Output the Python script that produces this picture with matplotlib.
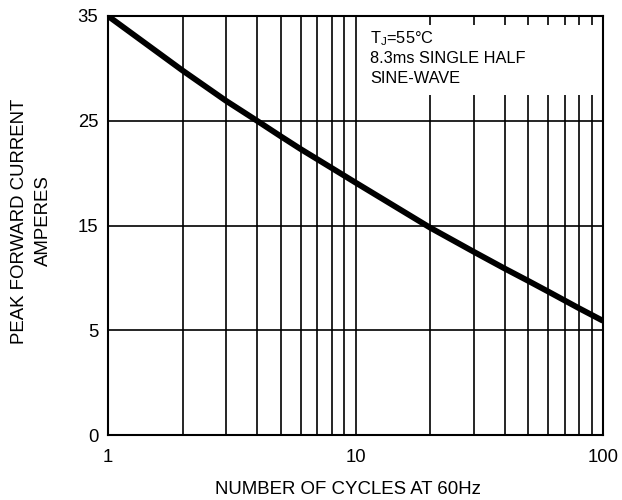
import numpy as np
import matplotlib
matplotlib.use("Agg")
import matplotlib.pyplot as plt
from matplotlib.ticker import LogLocator, FixedLocator, FixedFormatter, NullFormatter
from matplotlib.patches import Rectangle

plt.rcParams['font.family'] = ['Liberation Sans', 'DejaVu Sans']
plt.rcParams['mathtext.fontset'] = 'custom'
plt.rcParams['mathtext.rm'] = 'Liberation Sans'
plt.rcParams['mathtext.it'] = 'Liberation Sans'

# Data
cycles = [1, 2, 3, 4, 5, 6, 8, 10, 20, 30, 40, 50, 60, 80, 100]
current = [35, 29.8, 26.9, 25.0, 23.5, 22.3, 20.5, 19.1, 14.8, 12.5, 10.9, 9.7, 8.7, 7.1, 5.9]

y_ticks = [0, 5, 15, 25, 35]
y_tick_labels = ["0", "5", "15", "25", "35"]
x_ticks = [1, 10, 100]
x_tick_labels = ["1", "10", "100"]

# The printed y axis is evenly spaced at 0, 5, 15, 25, 35
tick_pos = np.arange(len(y_ticks), dtype=float)
tick_val = np.array(y_ticks, dtype=float)

def fwd(v):
    return np.interp(v, tick_val, tick_pos)

def inv(p):
    return np.interp(p, tick_pos, tick_val)

fig = plt.figure(figsize=(6.22, 5.0), dpi=100)
ax = fig.add_axes([108/622, 65/500, 495/622, 419/500])

ax.set_xscale('log')
ax.set_yscale('function', functions=(fwd, inv))
ax.set_xlim(1, 100)
ax.set_ylim(0, 35)

ax.plot(cycles, current, color='black', lw=4.2, solid_capstyle='butt',
        solid_joinstyle='round', zorder=4)

ax.xaxis.set_major_locator(FixedLocator(x_ticks))
ax.xaxis.set_major_formatter(FixedFormatter(x_tick_labels))
ax.xaxis.set_minor_locator(LogLocator(base=10, subs=np.arange(2, 10)))
ax.xaxis.set_minor_formatter(NullFormatter())
ax.yaxis.set_major_locator(FixedLocator(y_ticks))
ax.yaxis.set_major_formatter(FixedFormatter(y_tick_labels))
ax.yaxis.set_minor_locator(FixedLocator([]))

ax.grid(True, which='both', axis='x', color='black', lw=1.2)
ax.grid(True, which='major', axis='y', color='black', lw=1.2)

ax.tick_params(axis='both', which='both', length=0)
ax.tick_params(axis='y', pad=7, labelsize=13.3)
ax.tick_params(axis='x', pad=10, labelsize=13.3)
for s in ax.spines.values():
    s.set_linewidth(1.5)
    s.set_color('black')

# White box hiding grid under the annotation
ax.add_patch(Rectangle((0.519, 0.811), 0.469, 0.167, transform=ax.transAxes,
                       facecolor='white', edgecolor='none', zorder=2))

tx = 0.529
ax.text(tx, 0.9356, r"T$_{\mathrm{J}}$=55°C", transform=ax.transAxes,
        fontsize=11.8, va='baseline', ha='left', zorder=5)
ax.text(tx, 0.888, "8.3ms SINGLE HALF", transform=ax.transAxes,
        fontsize=11.8, va='baseline', ha='left', zorder=5)
ax.text(tx, 0.840, "SINE-WAVE", transform=ax.transAxes,
        fontsize=11.8, va='baseline', ha='left', zorder=5)

fig.text(31.5/622, (500-221)/500, "PEAK FORWARD CURRENT\nAMPERES",
         rotation=90, ha='center', va='center', multialignment='center',
         fontsize=13.4, linespacing=1.5)
fig.text(348/622, (500-489)/500, "NUMBER OF CYCLES AT 60Hz",
         ha='center', va='center', fontsize=13.4)

fig.savefig("out.png", dpi=100)
